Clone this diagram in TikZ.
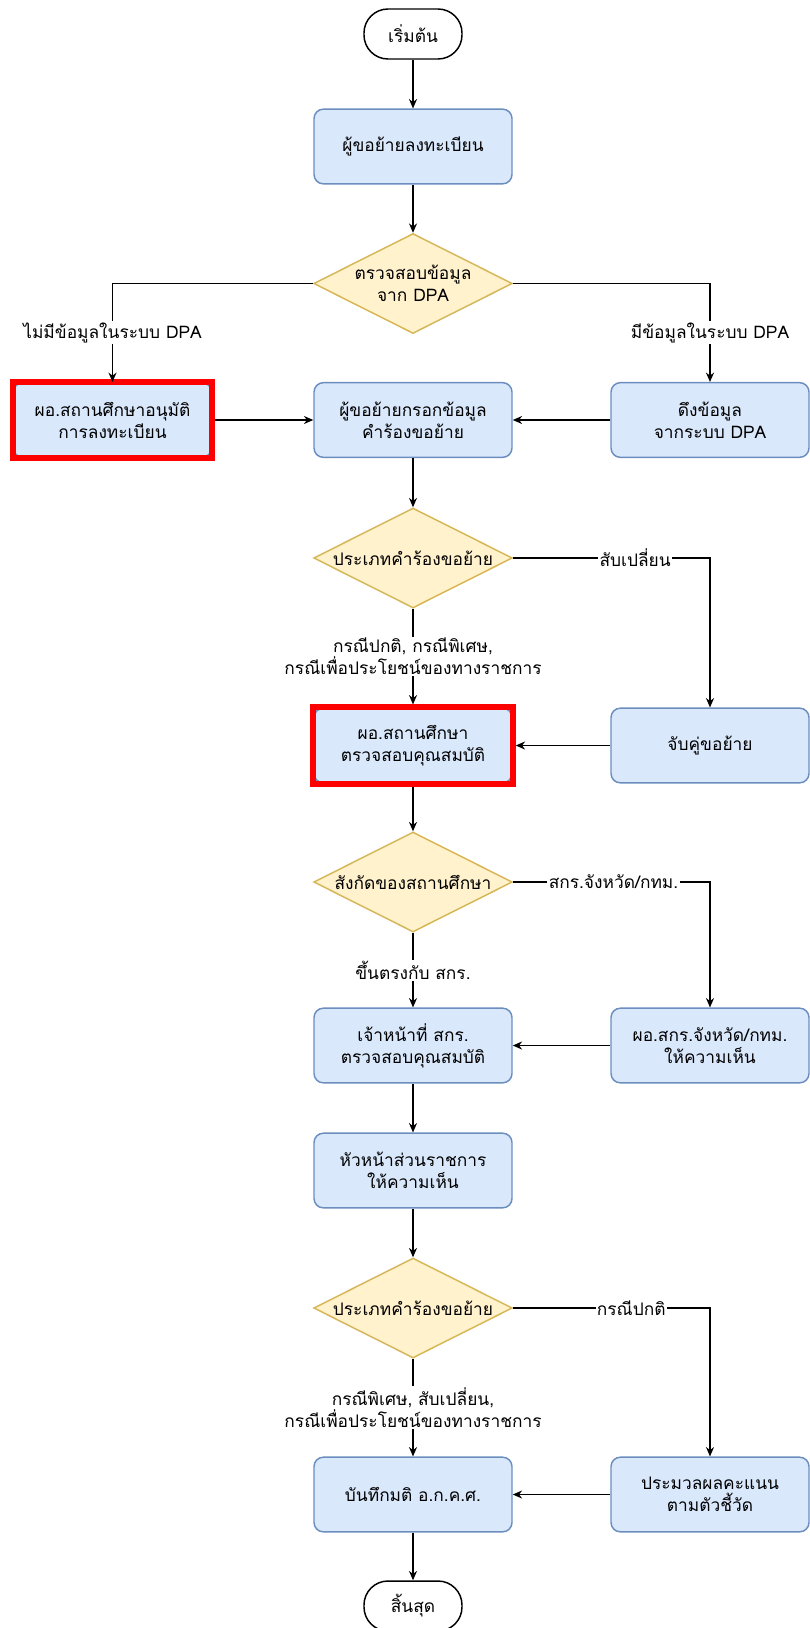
\documentclass[tikz,border=0pt]{standalone}
\usepackage{fontspec}
\setmainfont[Script=Thai]{Loma}
\usetikzlibrary{arrows.meta,shapes.geometric,fit}
\definecolor{boxfill}{HTML}{DAE8FC}
\definecolor{boxline}{HTML}{6C8EBF}
\definecolor{decfill}{HTML}{FFF2CC}
\definecolor{decline}{HTML}{D6B656}
\tikzset{
        process/.style={draw=boxline, fill=boxfill, line width=1.1pt, rounded corners=7pt,
                minimum width=148.5pt, minimum height=56pt, inner sep=2pt, align=center},
        decision/.style={diamond, aspect=2, draw=decline, fill=decfill, line width=1.1pt,
                minimum width=149pt, minimum height=75pt, inner sep=-3pt, align=center},
        terminal/.style={draw, line width=1.1pt, rounded corners=18pt,
                minimum width=73.5pt, minimum height=37.5pt},
        flow/.style={-{Stealth[length=7pt,width=6pt]}, line width=1.1pt},
        lbl/.style={fill=white, inner sep=1pt, align=center},
        redframe/.style={draw=red, line width=4.5pt, inner sep=0pt}
}
\begin{document}
\begin{tikzpicture}[x=0.75pt, y=-0.75pt, font=\fontsize{13}{16.5}\selectfont]
                \useasboundingbox (0,0) rectangle (810,1628);

                \node[terminal] (start) at (413,34) {เริ่มต้น};
                \node[process] (reg) at (413,146.5) {ผู้ขอย้ายลงทะเบียน};
                \node[decision] (chk) at (413,283.5) {ตรวจสอบข้อมูล\\จาก DPA};
                \node[process] (lreg) at (112.5,420) {ผอ.สถานศึกษาอนุมัติ\\การลงทะเบียน};
                \node[process] (form) at (413,420) {ผู้ขอย้ายกรอกข้อมูล\\คำร้องขอย้าย};
                \node[process] (pull) at (710,420) {ดึงข้อมูล\\จากระบบ DPA};
                \node[decision] (kind) at (413,558) {ประเภทคำร้องขอย้าย};
                \node[process] (head) at (413,745.5) {ผอ.สถานศึกษา\\ตรวจสอบคุณสมบัติ};
                \node[process] (pair) at (710,745.5) {จับคู่ขอย้าย};
                \node[decision] (unit) at (413,882) {สังกัดของสถานศึกษา};
                \node[process] (staff) at (413,1045.5) {เจ้าหน้าที่ สกร.\\ตรวจสอบคุณสมบัติ};
                \node[process] (prov) at (710,1045.5) {ผอ.สกร.จังหวัด/กทม.\\ให้ความเห็น};
                \node[process] (chief) at (413,1170.5) {หัวหน้าส่วนราชการ\\ให้ความเห็น};
                \node[decision] (kindb) at (413,1308) {ประเภทคำร้องขอย้าย};
                \node[process] (board) at (413,1494.5) {บันทึกมติ อ.ก.ค.ศ.};
                \node[process] (score) at (710,1494.5) {ประมวลผลคะแนน\\ตามตัวชี้วัด};
                \node[terminal] (stop) at (413,1606) {สิ้นสุด};

                \node[redframe, fit=(lreg)] (lregframe) {};
                \node[redframe, fit=(head)] (headframe) {};

                \draw[flow] (start) -- (reg);
                \draw[flow] (reg) -- (chk);
                \draw[flow] (chk) -| (lreg) node[lbl, pos=0.75] {ไม่มีข้อมูลในระบบ DPA};
                \draw[flow] (chk) -| (pull) node[lbl, pos=0.75] {มีข้อมูลในระบบ DPA};
                \draw[flow] (lregframe) -- (form);
                \draw[flow] (pull) -- (form);
                \draw[flow] (form) -- (kind);
                \draw[flow] (kind) -| (pair) node[lbl, pos=0.31] {สับเปลี่ยน};
                \draw[flow] (kind) -- (headframe) node[lbl, midway] {กรณีปกติ, กรณีพิเศษ,\\กรณีเพื่อประโยชน์ของทางราชการ};
                \draw[flow] (pair) -- (headframe);
                \draw[flow] (headframe) -- (unit);
                \draw[flow] (unit) -| (prov) node[lbl, pos=0.255] {สกร.จังหวัด/กทม.};
                \draw[flow] (unit) -- (staff) node[lbl, midway] {ขึ้นตรงกับ สกร.};
                \draw[flow] (prov) -- (staff);
                \draw[flow] (staff) -- (chief);
                \draw[flow] (chief) -- (kindb);
                \draw[flow] (kindb) -| (score) node[lbl, pos=0.3] {กรณีปกติ};
                \draw[flow] (kindb) -- (board) node[lbl, midway] {กรณีพิเศษ, สับเปลี่ยน,\\กรณีเพื่อประโยชน์ของทางราชการ};
                \draw[flow] (score) -- (board);
                \draw[flow] (board) -- (stop);
\end{tikzpicture}
\end{document}
